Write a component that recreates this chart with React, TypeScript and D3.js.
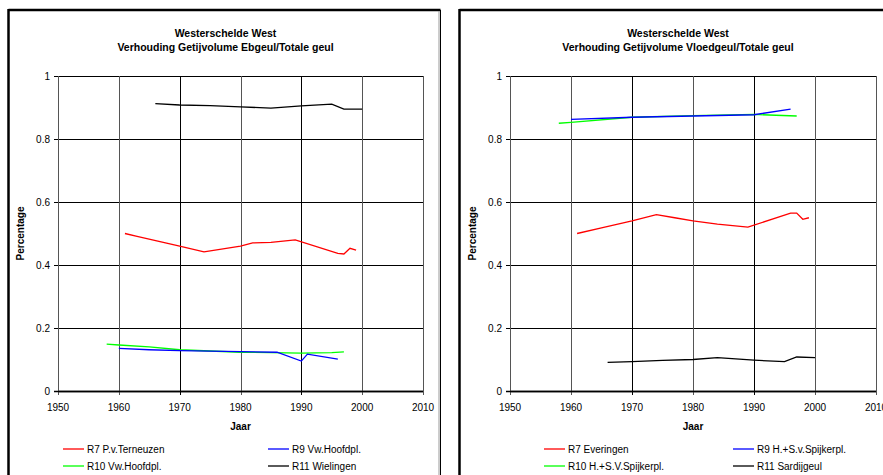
import React from 'react';
import * as d3 from 'd3';

type Pt = [number, number];

// left panel: Ebgeul / Totale geul
const ebR7: Pt[] = [[1961, 0.50], [1963, 0.491], [1970, 0.46], [1974, 0.442], [1980, 0.46], [1982, 0.47], [1985, 0.472], [1989, 0.48], [1996, 0.437], [1997, 0.435], [1998, 0.453], [1999, 0.447]];
const ebR9: Pt[] = [[1960, 0.135], [1965, 0.131], [1970, 0.128], [1980, 0.125], [1986, 0.123], [1990, 0.095], [1991, 0.117], [1996, 0.101]];
const ebR10: Pt[] = [[1958, 0.149], [1960, 0.146], [1965, 0.14], [1970, 0.131], [1975, 0.127], [1980, 0.123], [1985, 0.122], [1990, 0.12], [1995, 0.122], [1997, 0.124]];
const ebR11: Pt[] = [[1966, 0.912], [1970, 0.908], [1975, 0.906], [1980, 0.902], [1985, 0.898], [1990, 0.905], [1995, 0.911], [1997, 0.895], [2000, 0.895]];

// right panel: Vloedgeul / Totale geul
const vlR7: Pt[] = [[1961, 0.50], [1965, 0.518], [1970, 0.54], [1974, 0.56], [1977, 0.55], [1980, 0.54], [1984, 0.53], [1989, 0.52], [1996, 0.565], [1997, 0.565], [1998, 0.545], [1999, 0.55]];
const vlR9: Pt[] = [[1960, 0.862], [1970, 0.869], [1980, 0.873], [1990, 0.877], [1996, 0.895]];
const vlR10: Pt[] = [[1958, 0.85], [1960, 0.853], [1970, 0.869], [1980, 0.874], [1990, 0.878], [1997, 0.873]];
const vlR11: Pt[] = [[1966, 0.091], [1970, 0.093], [1975, 0.097], [1980, 0.1], [1984, 0.106], [1990, 0.098], [1995, 0.093], [1997, 0.108], [2000, 0.106]];

const xTicks = [1950, 1960, 1970, 1980, 1990, 2000, 2010];
const yTicks = [0, 0.2, 0.4, 0.6, 0.8, 1];
const yTickLabels = ['0', '0.2', '0.4', '0.6', '0.8', '1'];

const titleTop = 'Westerschelde West';
const leftTitle = 'Verhouding Getijvolume Ebgeul/Totale geul';
const rightTitle = 'Verhouding Getijvolume Vloedgeul/Totale geul';
const leftNames = ['R7 P.v.Terneuzen', 'R9 Vw.Hoofdpl.', 'R10 Vw.Hoofdpl.', 'R11 Wielingen'];
const rightNames = ['R7 Everingen', 'R9 H.+S.v.Spijkerpl.', 'R10 H.+S.V.Spijkerpl.', 'R11 Sardijgeul'];
const colors = ['#ff0000', '#0000ff', '#00ff00', '#000000'];

const font = 'Liberation Sans, Arial, sans-serif';

interface PanelProps {
  px: number; // panel left
  pw: number; // panel width
  x0: number; x1: number; // plot area
  title: string;
  series: Pt[][];
  names: string[];
  legendX: [number, number];
}

function Panel({ px, pw, x0, x1, title, series, names, legendX }: PanelProps) {
  const y0 = 391, y1 = 76;
  const x = d3.scaleLinear().domain([1950, 2010]).range([x0, x1]);
  const y = d3.scaleLinear().domain([0, 1]).range([y0, y1]);
  const line = d3.line<Pt>().x(d => x(d[0])).y(d => y(d[1]));
  const cx = (x0 + x1) / 2;
  const order = [0, 3, 2, 1]; // draw order

  return (
    <g>
      <rect x={px} y={10} width={pw} height={480} fill="#fff" />
      <line x1={px} y1={10} x2={px + pw} y2={10} stroke="#000" strokeWidth={2.5} />
      <line x1={px} y1={9} x2={px} y2={480} stroke="#000" strokeWidth={2.5} />
      <line x1={px + pw} y1={10} x2={px + pw} y2={480} stroke="#000" strokeWidth={1} />
      <line x1={px + pw - 1.5} y1={11} x2={px + pw - 1.5} y2={480} stroke="#999" strokeWidth={1} />

      <text x={cx - 15} y={37} textAnchor="middle" fontFamily={font} fontWeight="bold" fontSize={10.5}>{titleTop}</text>
      <text x={cx - 15} y={51} textAnchor="middle" fontFamily={font} fontWeight="bold" fontSize={10.5}>{title}</text>

      {yTicks.map((t, i) => (
        <g key={'y' + i}>
          <line x1={x0 - 4} x2={x1} y1={Math.round(y(t)) + 0.5} y2={Math.round(y(t)) + 0.5} stroke="#000" strokeWidth={t === 0 ? 1.5 : 1} />
          <text x={x0 - 8} y={y(t) + 3.5} textAnchor="end" fontFamily={font} fontSize={10}>{yTickLabels[i]}</text>
        </g>
      ))}
      {xTicks.map((t, i) => (
        <g key={'x' + i}>
          <line x1={Math.round(x(t)) + 0.5} x2={Math.round(x(t)) + 0.5} y1={y1} y2={y0 + 4} stroke={i % 2 === 0 && i > 0 && i < 6 ? '#000' : '#555'} strokeWidth={1} />
          <text x={x(t)} y={411} textAnchor="middle" fontFamily={font} fontSize={10}>{t}</text>
        </g>
      ))}
      <line x1={x0} x2={x1} y1={y0 + 0.5} y2={y0 + 0.5} stroke="#000" strokeWidth={1.5} />

      <text x={cx} y={430} textAnchor="middle" fontFamily={font} fontWeight="bold" fontSize={10}>Jaar</text>
      <text transform={`translate(${x0 - 34},${(y0 + y1) / 2}) rotate(-90)`} textAnchor="middle" fontFamily={font} fontWeight="bold" fontSize={10}>Percentage</text>

      {order.map(i => (
        <path key={'s' + i} d={line(series[i]) || ''} fill="none" stroke={colors[i]} strokeWidth={1.3} />
      ))}

      {names.map((n, i) => {
        const lx = legendX[i % 2];
        const ly = i < 2 ? 449 : 466;
        return (
          <g key={'l' + i}>
            <line x1={lx} x2={lx + 21} y1={ly} y2={ly} stroke={colors[i]} strokeWidth={1.3} />
            <text x={lx + 24} y={ly + 3.5} fontFamily={font} fontSize={10}>{n}</text>
          </g>
        );
      })}
    </g>
  );
}

export default function App() {
  return (
    <svg width={883} height={475} style={{ position: 'absolute', left: 0, top: 0, background: '#fff' }}>
      <Panel px={8.5} pw={432} x0={58} x1={423} title={leftTitle}
        series={[ebR7, ebR9, ebR10, ebR11]} names={leftNames} legendX={[63, 268]} />
      <Panel px={459.5} pw={440} x0={510} x1={876} title={rightTitle}
        series={[vlR7, vlR9, vlR10, vlR11]} names={rightNames} legendX={[544, 733]} />
    </svg>
  );
}
